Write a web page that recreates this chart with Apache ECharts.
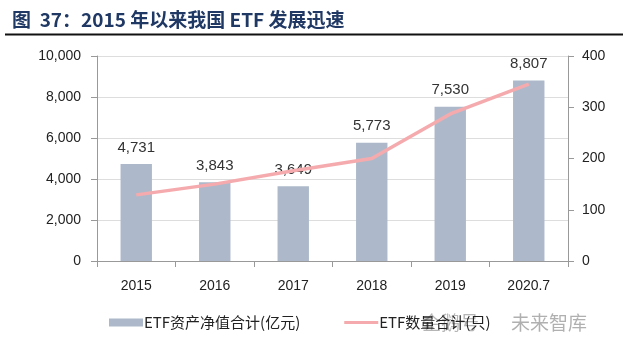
<!DOCTYPE html>
<html><head><meta charset="utf-8">
<script src="https://cdn.jsdelivr.net/npm/echarts@6/dist/echarts.min.js"></script>
<style>html,body{margin:0;padding:0;background:#fff}#c{width:641px;height:347px}</style>
</head><body><div id="c"></div>
<script>
const categories = ['2015','2016','2017','2018','2019','2020.7'];
const assetValues = [4731,3843,3649,5773,7530,8807];
const etfCounts = [129,150,176,200,287,345];
const leftTicks = [0,2000,4000,6000,8000,10000];
const rightTicks = [0,100,200,300,400];

const chart = echarts.init(document.getElementById('c'));
const font = '"Liberation Sans", Arial, sans-serif';
const cjk = '"Noto Sans CJK SC", sans-serif';
chart.setOption({
  animation:false,
  title:{text:'图  37：2015 年以来我国 ETF 发展迅速', left:7, top:5,
    textStyle:{color:'#1F3864', fontSize:19, fontWeight:'bold', fontFamily:cjk}},
  graphic:[
    {type:'line', shape:{x1:5,y1:34.5,x2:623,y2:34.5}, style:{stroke:'#111', lineWidth:2}},
    {type:'text', left:422, top:313, style:{text:'企鹅号', fill:'rgba(150,150,150,0.7)', fontSize:19, fontFamily:cjk}},
    {type:'text', left:511, top:313, style:{text:'未来智库', fill:'rgba(150,150,150,0.75)', fontSize:19, fontFamily:cjk}}
  ],
  legend:{bottom:12, left:104, itemGap:44, itemWidth:34, itemHeight:8,
    textStyle:{fontSize:15, color:'#222', fontFamily:cjk, padding:[0,0,0,-4]},
    data:[{name:'ETF资产净值合计(亿元)', icon:'rect'},
          {name:'ETF数量合计(只)', icon:'path://M0,0H34V3H0Z'}]},
  grid:{left:97, right:73, top:56, bottom:86},
  xAxis:{type:'category', data:categories,
    axisLine:{lineStyle:{color:'#999'}}, axisTick:{show:true, length:6, lineStyle:{color:'#999'}},
    axisLabel:{color:'#222', fontSize:14, margin:18, fontFamily:font}},
  yAxis:[
    {type:'value', min:leftTicks[0], max:leftTicks[leftTicks.length-1], interval:2000,
     axisLine:{show:true, lineStyle:{color:'#999'}}, axisTick:{show:true, length:6, lineStyle:{color:'#999'}},
     splitLine:{lineStyle:{color:'#ddd'}},
     axisLabel:{color:'#222', fontSize:14, margin:16, fontFamily:font,
       formatter:v=>v.toLocaleString('en-US')}},
    {type:'value', min:rightTicks[0], max:rightTicks[rightTicks.length-1], interval:100,
     axisLine:{show:true, lineStyle:{color:'#999'}}, axisTick:{show:true, length:6, lineStyle:{color:'#999'}},
     splitLine:{show:false},
     axisLabel:{color:'#222', fontSize:14, margin:14, fontFamily:font}}
  ],
  series:[
    {name:'ETF资产净值合计(亿元)', type:'bar', data:assetValues, barWidth:'40%',
     itemStyle:{color:'#ADB9CA'},
     label:{show:true, position:'top', distance:9, color:'#333', fontSize:15, fontFamily:font,
       formatter:p=>p.value.toLocaleString('en-US')}},
    {name:'ETF数量合计(只)', type:'line', yAxisIndex:1, data:etfCounts, symbol:'none',
     lineStyle:{color:'#F5ABAD', width:3.5}, itemStyle:{color:'#F5ABAD'}}
  ]
});
</script></body></html>
